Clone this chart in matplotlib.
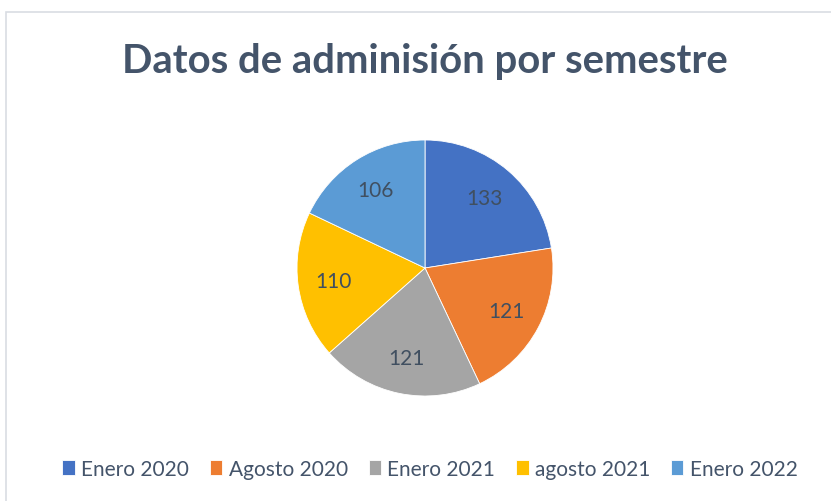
import matplotlib
matplotlib.use("Agg")
import matplotlib.pyplot as plt
from matplotlib.patches import Rectangle

# Datos del grafico
semestres = ["Enero 2020", "Agosto 2020", "Enero 2021", "agosto 2021", "Enero 2022"]
admisiones = [133, 121, 121, 110, 106]
colores = ["#4472C4", "#ED7D31", "#A5A5A5", "#FFC000", "#5B9BD5"]

W, H = 831, 502
plt.rcParams["font.family"] = ["Lato", "DejaVu Sans"]
texto = "#44546A"

fig = plt.figure(figsize=(W / 100, H / 100), dpi=100)

# Marco del area del grafico (sigue fuera de la imagen a la derecha y abajo)
fig.patches.append(Rectangle((6 / W, -0.1), 1.2, (H - 13) / H + 0.1, transform=fig.transFigure,
                             fill=False, edgecolor="#D9DDE3", linewidth=1.2))

# Pie: centro (425, 269), radio 128 px
cx, cy, r = 425, 269, 128
ax = fig.add_axes([(cx - r) / W, (H - cy - r) / H, 2 * r / W, 2 * r / H])
wedges, labels = ax.pie(admisiones, colors=colores, startangle=90, counterclock=False,
                        labels=[str(v) for v in admisiones], labeldistance=0.72,
                        wedgeprops=dict(edgecolor="white", linewidth=0.6),
                        textprops=dict(color="#404F60", fontsize=15))
for t in labels:
    t.set_ha("center")
    t.set_va("center")
ax.set_xlim(-1, 1)
ax.set_ylim(-1, 1)
ax.set_aspect("equal")
ax.axis("off")

fig.text(cx / W, 1 - 62 / H, "Datos de adminisión por semestre", ha="center", va="center",
         fontsize=28.8, fontweight="bold", color=texto)

fig.legend(wedges, semestres, loc="center", bbox_to_anchor=(430 / W, 1 - 470 / H),
           ncol=5, frameon=False, fontsize=15, handlelength=0.6, handleheight=0.7,
           handletextpad=0.3, columnspacing=1.0, labelcolor=texto)

fig.savefig("out.png", dpi=100)
